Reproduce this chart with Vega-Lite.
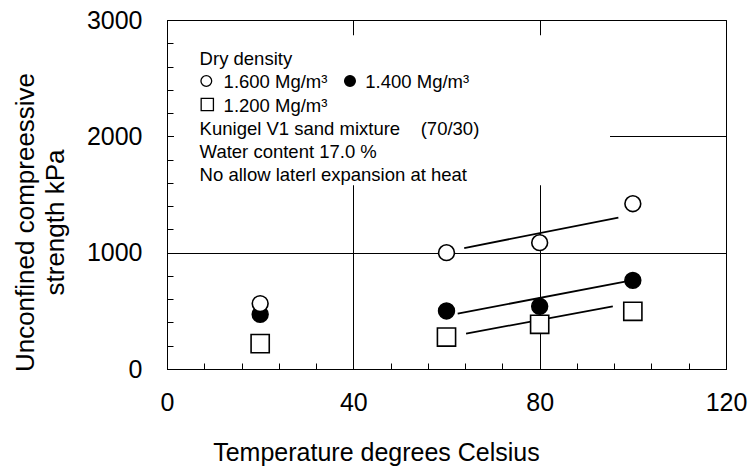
{
  "$schema": "https://vega.github.io/schema/vega-lite/v6.json",
  "width": 559,
  "height": 349,
  "autosize": "none",
  "padding": {"left": 167, "top": 20, "right": 25, "bottom": 97},
  "background": "white",
  "config": {
    "font": "Liberation Sans",
    "view": {"stroke": "black", "strokeWidth": 1},
    "axis": {
      "domainColor": "black",
      "tickColor": "black",
      "tickSize": -6,
      "labelColor": "black",
      "labelFontSize": 25,
      "labelFont": "Liberation Sans",
      "titleFont": "Liberation Sans",
      "titleColor": "black",
      "titleFontWeight": "normal",
      "labelOverlap": false,
      "labelFlush": false,
      "gridColor": "black",
      "gridWidth": 1
    }
  },
  "datasets": {
    "points": [
      {"density": "1.400", "T": 20, "S": 470},
      {"density": "1.400", "T": 60, "S": 499},
      {"density": "1.400", "T": 80, "S": 539},
      {"density": "1.400", "T": 100, "S": 762},
      {"density": "1.600", "T": 20, "S": 562},
      {"density": "1.600", "T": 60, "S": 1000},
      {"density": "1.600", "T": 80, "S": 1086},
      {"density": "1.600", "T": 100, "S": 1421},
      {"density": "1.200", "T": 20, "S": 218},
      {"density": "1.200", "T": 60, "S": 275},
      {"density": "1.200", "T": 80, "S": 384},
      {"density": "1.200", "T": 100, "S": 496}
    ],
    "fits": [
      {"density": "1.600", "T": 63.8, "S": 1040},
      {"density": "1.600", "T": 96.9, "S": 1301},
      {"density": "1.400", "T": 62.4, "S": 476},
      {"density": "1.400", "T": 98.9, "S": 756},
      {"density": "1.200", "T": 64.2, "S": 304},
      {"density": "1.200", "T": 95.7, "S": 539}
    ],
    "keys": [
      {"density": "1.600", "T": 8.44, "S": 2476},
      {"density": "1.400", "T": 39.28, "S": 2476},
      {"density": "1.200", "T": 8.65, "S": 2274}
    ],
    "notes": [
      {"T": 7, "S": 2613, "label": "Dry density"},
      {"T": 12.15, "S": 2413, "label": "1.600 Mg/m³"},
      {"T": 42.57, "S": 2413, "label": "1.400 Mg/m³"},
      {"T": 12.15, "S": 2213, "label": "1.200 Mg/m³"},
      {"T": 7, "S": 2012, "label": "Kunigel V1 sand mixture \u00a0\u00a0\u00a0(70/30)"},
      {"T": 7, "S": 1812, "label": "Water content 17.0 %"},
      {"T": 7, "S": 1612, "label": "No allow laterl expansion at heat"}
    ],
    "box": [
      {"T": 1.5, "T2": 95.1, "S": 1579, "S2": 2868}
    ]
  },
  "encoding": {
    "x": {
      "field": "T",
      "type": "quantitative",
      "scale": {"domain": [0, 120], "nice": false, "zero": false},
      "axis": {
        "title": "Temperature degrees Celsius",
        "titleFontSize": 25,
        "titleX": 209,
        "titleY": 91,
        "titleAlign": "center",
        "titleBaseline": "alphabetic",
        "values": [0, 8, 16, 24, 32, 40, 48, 56, 64, 72, 80, 88, 96, 104, 112, 120],
        "labelExpr": "datum.value % 40 === 0 ? datum.label : ''",
        "labelPadding": 27,
        "grid": true,
        "gridOpacity": {"condition": {"test": "datum.value % 40 === 0", "value": 1}, "value": 0}
      }
    },
    "y": {
      "field": "S",
      "type": "quantitative",
      "scale": {"domain": [0, 3000], "nice": false, "zero": false},
      "axis": {
        "title": ["Unconfined compreessive", "strength kPa"],
        "titleFontSize": 26,
        "titleLineHeight": 30,
        "titleAngle": -90,
        "titleX": -134,
        "titleY": 202,
        "titleAlign": "center",
        "titleBaseline": "alphabetic",
        "values": [0, 200, 400, 600, 800, 1000, 1200, 1400, 1600, 1800, 2000, 2200, 2400, 2600, 2800, 3000],
        "labelExpr": "datum.value % 1000 === 0 ? datum.label : ''",
        "format": "d",
        "labelPadding": 31,
        "grid": true,
        "gridOpacity": {"condition": {"test": "datum.value % 1000 === 0", "value": 1}, "value": 0}
      }
    }
  },
  "layer": [
    {
      "data": {"name": "box"},
      "mark": {"type": "rect", "fill": "white", "stroke": null},
      "encoding": {
        "x2": {"field": "T2"},
        "y2": {"field": "S2"}
      }
    },
    {
      "data": {"name": "fits"},
      "mark": {"type": "line", "color": "black", "strokeWidth": 1.8},
      "encoding": {
        "detail": {"field": "density", "type": "nominal"}
      }
    },
    {
      "data": {"name": "points"},
      "transform": [{"filter": "datum.density !== '1.200'"}],
      "mark": {"type": "point", "shape": "circle", "filled": true, "stroke": "black", "strokeWidth": 1.6, "size": 250, "opacity": 1},
      "encoding": {
        "fill": {
          "field": "density",
          "type": "nominal",
          "scale": {"domain": ["1.600", "1.400"], "range": ["white", "black"]},
          "legend": null
        }
      }
    },
    {
      "data": {"name": "points"},
      "transform": [{"filter": "datum.density === '1.200'"}],
      "mark": {"type": "point", "shape": "square", "filled": true, "fill": "white", "stroke": "black", "strokeWidth": 1.6, "size": 330, "opacity": 1}
    },
    {
      "data": {"name": "keys"},
      "transform": [{"filter": "datum.density !== '1.200'"}],
      "mark": {"type": "point", "shape": "circle", "filled": true, "stroke": "black", "strokeWidth": 1.3, "size": 115, "opacity": 1},
      "encoding": {
        "fill": {
          "field": "density",
          "type": "nominal",
          "scale": {"domain": ["1.600", "1.400"], "range": ["white", "black"]},
          "legend": null
        }
      }
    },
    {
      "data": {"name": "keys"},
      "transform": [{"filter": "datum.density === '1.200'"}],
      "mark": {"type": "point", "shape": "square", "filled": true, "fill": "white", "stroke": "black", "strokeWidth": 1.3, "size": 150, "opacity": 1}
    },
    {
      "data": {"name": "notes"},
      "mark": {"type": "text", "align": "left", "baseline": "alphabetic", "font": "Liberation Sans", "fontSize": 18.5, "color": "black"},
      "encoding": {
        "text": {"field": "label", "type": "nominal"}
      }
    }
  ]
}
